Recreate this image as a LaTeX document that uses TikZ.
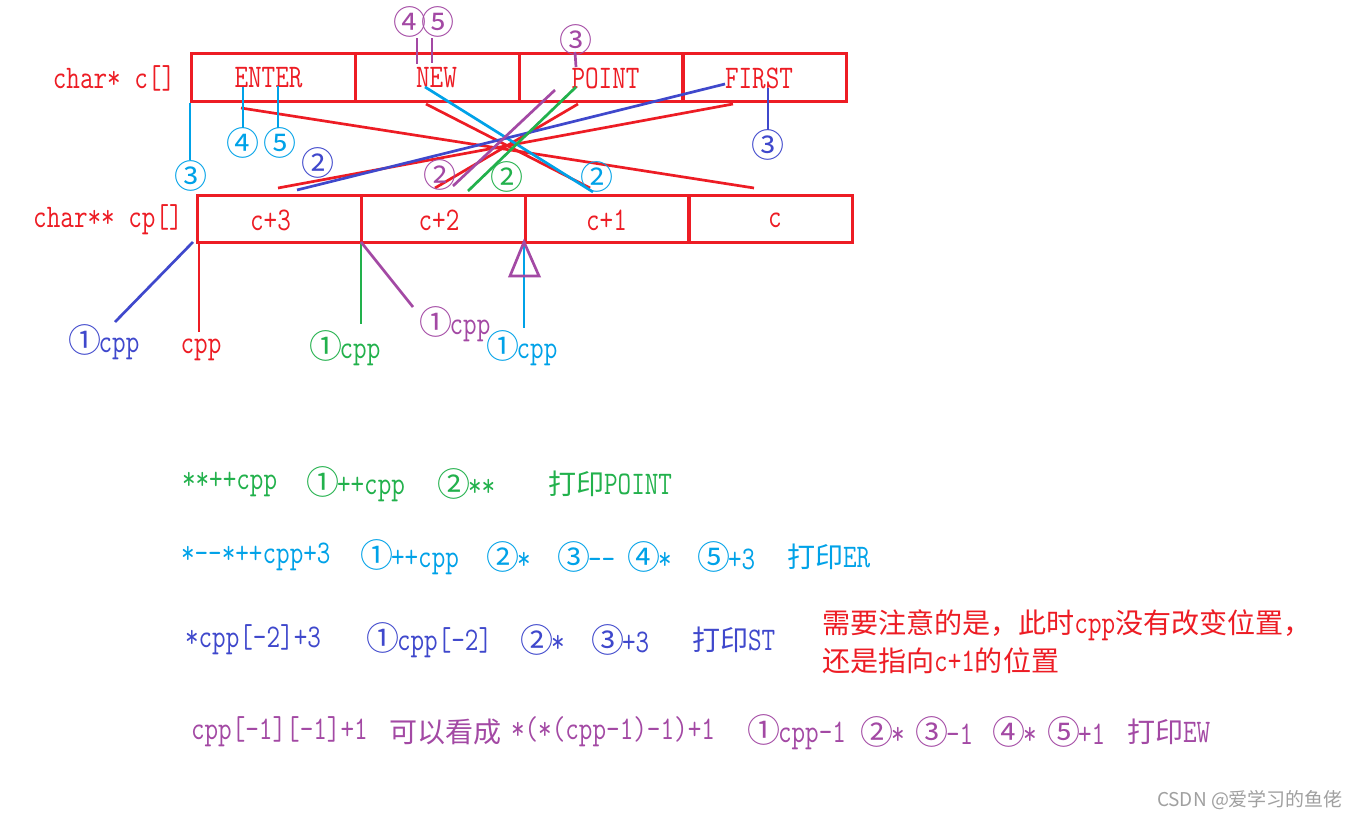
\documentclass[tikz,border=0pt]{standalone}
\usepackage{fontspec}
\setmonofont[FakeStretch=0.8]{Latin Modern Mono}
\newfontfamily\cjk[Scale=0.85]{Noto Sans CJK SC}
\newfontfamily\cdfont[Scale=1.0]{Noto Sans CJK SC}
\newfontfamily\wmfont{Noto Sans CJK SC}
\newcommand{\zh}[1]{{\cjk #1}}
\newcommand{\cd}[1]{\makebox[28pt]{\cdfont #1}}
\definecolor{pred}{HTML}{ED1C24}
\definecolor{pgreen}{HTML}{22B14C}
\definecolor{pcyan}{HTML}{00A2E8}
\definecolor{pblue}{HTML}{3F48CC}
\definecolor{ppurple}{HTML}{A349A4}
\definecolor{wmgray}{HTML}{A0A0A0}
\begin{document}
\begin{tikzpicture}[x=1pt,y=-1pt,
  every node/.style={inner sep=0pt, outer sep=0pt},
  font=\ttfamily\fontsize{33}{36}\selectfont,
  cell/.style={draw=pred, line width=3pt, minimum width=164pt, minimum height=48pt},
  ln/.style={draw=#1, line width=2.7pt},
  redln/.style={draw=pred, line width=2.7pt},
]
\fill[white] (0,0) rectangle (1363,819);
\useasboundingbox (0,0) rectangle (1363,819);

% ---- arrays ----
\node[cell] (t1) at (273,77) {};
\node[cell] (t2) at (437,77) {};
\node[cell] (t3) at (601,77) {};
\node[cell] (t4) at (764.5,77) {};
\node[cell, minimum height=47pt] (b1) at (279,218.5) {};
\node[cell, minimum height=47pt] (b2) at (443,218.5) {};
\node[cell, minimum height=47pt] (b3) at (607,218.5) {};
\node[cell, minimum height=47pt] (b4) at (770.5,218.5) {};

\node[text=pred] (lc) at (114,78) {char* c[]};
\node[text=pred] (lcp) at (108,220) {char** cp[]};
\node[text=pred] (sENTER) at (268.5,78) {ENTER};
\node[text=pred] (sNEW) at (436.5,78) {NEW};
\node[text=pred] (sPOINT) at (605.5,78) {POINT};
\node[text=pred] (sFIRST) at (759,78) {FIRST};
\node[text=pred] (pc3) at (270.5,220) {c+3};
\node[text=pred] (pc2) at (439,220) {c+2};
\node[text=pred] (pc1) at (606.5,220) {c+1};
\node[text=pred] (pc0) at (775,220) {c};

% ---- endpoints ----
\coordinate (r1a) at (241,108); \coordinate (r1b) at (754,188);
\coordinate (r2a) at (278,188); \coordinate (r2b) at (733,104);
\coordinate (r3a) at (435,188); \coordinate (r3b) at (578,104);
\coordinate (r4a) at (426,104); \coordinate (r4b) at (590,188);
\coordinate (bla) at (297,190); \coordinate (blb) at (725,84);
\coordinate (pua) at (453,186); \coordinate (pub) at (555,90);
\coordinate (gra) at (468,191); \coordinate (grb) at (576,87);
\coordinate (cya) at (425,87);  \coordinate (cyb) at (593,192);

\coordinate (v1a) at (190,103); \coordinate (v1b) at (190,160);
\coordinate (v2a) at (243,87);  \coordinate (v2b) at (243,128);
\coordinate (v3a) at (278,86);  \coordinate (v3b) at (278,128);
\coordinate (v4a) at (417,38);  \coordinate (v4b) at (417,64);
\coordinate (v5a) at (432,38);  \coordinate (v5b) at (432,63);
\coordinate (v6a) at (575,52);  \coordinate (v6b) at (576,67);
\coordinate (v7a) at (768,88);  \coordinate (v7b) at (768,130);

\coordinate (l1a) at (193,242); \coordinate (l1b) at (115,322);
\coordinate (l2a) at (199,242); \coordinate (l2b) at (199,332);
\coordinate (l3a) at (361,242); \coordinate (l3b) at (361,324);
\coordinate (l4b) at (413,307);
\coordinate (l5a) at (524,242); \coordinate (l5b) at (524,328);
\coordinate (tri1) at (510,276); \coordinate (tri2) at (539,276);

% ---- red pointer lines ----
\draw[redln] (r1a) -- (r1b);
\draw[redln] (r2a) -- (r2b);
\draw[redln] (r3a) -- (r3b);
\draw[redln] (r4a) -- (r4b);

% ---- coloured step lines ----
\draw[ln=pcyan] (cya) -- (cyb);
\draw[ln=pblue] (bla) -- (blb);
\draw[ln=ppurple] (pua) -- (pub);
\draw[ln=pgreen] (gra) -- (grb);

\draw[ln=pcyan] (v1a) -- (v1b);
\draw[ln=pcyan] (v2a) -- (v2b);
\draw[ln=pcyan] (v3a) -- (v3b);
\draw[ln=ppurple] (v4a) -- (v4b);
\draw[ln=ppurple] (v5a) -- (v5b);
\draw[ln=ppurple] (v6a) -- (v6b);
\draw[ln=pblue] (v7a) -- (v7b);

\draw[ln=pblue] (l1a) -- (l1b);
\draw[ln=pred] (l2a) -- (l2b);
\draw[ln=pgreen] (l3a) -- (l3b);
\draw[ln=ppurple] (l3a) -- (l4b);
\draw[ln=pcyan] (l5a) -- (l5b);
\draw[ln=ppurple, line join=miter] (l5a) -- (tri1) -- (tri2) -- cycle;

% ---- circled step numbers ----
\node[text=pcyan] (n3c) at (191,176) {\cd{③}};
\node[text=pcyan] (n4c) at (243,143) {\cd{④}};
\node[text=pcyan] (n5c) at (280,143) {\cd{⑤}};
\node[text=pblue] (n2b) at (318,163) {\cd{②}};
\node[text=ppurple] (n2p) at (440,175) {\cd{②}};
\node[text=pgreen] (n2g) at (507,177) {\cd{②}};
\node[text=pcyan] (n2c) at (597,177) {\cd{②}};
\node[text=pblue] (n3b) at (768,145) {\cd{③}};
\node[text=ppurple] (n3p) at (576,40) {\cd{③}};
\node[text=ppurple] (n45p) at (424,22) {\cd{④}\cd{⑤}};

\node[text=pblue] (cppb) at (105,342) {\cd{①}cpp};
\node[text=pred] (cppr) at (201,350) {cpp};
\node[text=pgreen] (cppg) at (346,348) {\cd{①}cpp};
\node[text=ppurple] (cppp) at (456,324) {\cd{①}cpp};
\node[text=pcyan] (cppc) at (523,348) {\cd{①}cpp};

% ---- explanation lines ----
\begin{scope}[every node/.append style={anchor=west}]
\node[text=pgreen] (g1) at (182,484) {**++cpp};
\node[text=pgreen] (g2) at (309,484) {\cd{①}++cpp};
\node[text=pgreen] (g3) at (440,484) {\cd{②}**};
\node[text=pgreen] (g4) at (548,484) {\zh{打印}POINT};

\node[text=pcyan] (c1) at (181,557) {*--*++cpp+3};
\node[text=pcyan] (c2) at (363,557) {\cd{①}++cpp};
\node[text=pcyan] (c3) at (489,557) {\cd{②}*};
\node[text=pcyan] (c4) at (560,557) {\cd{③}--};
\node[text=pcyan] (c5) at (630,557) {\cd{④}*};
\node[text=pcyan] (c6) at (700,557) {\cd{⑤}+3};
\node[text=pcyan] (c7) at (787,557) {\zh{打印}ER};

\node[text=pblue] (s1) at (185,640) {*cpp[-2]+3};
\node[text=pblue] (s2) at (369,640) {\cd{①}cpp[-2]};
\node[text=pblue] (s3) at (523,640) {\cd{②}*};
\node[text=pblue] (s4) at (594,640) {\cd{③}+3};
\node[text=pblue] (s5) at (692,640) {\zh{打印}ST};

\node[text=pred] (note1) at (822,625) {\zh{需要注意的是，此时}cpp\zh{没有改变位置，}};
\node[text=pred] (note2) at (822,661) {\zh{还是指向}c+1\zh{的位置}};

\node[text=ppurple] (p1) at (191,732) {cpp[-1][-1]+1};
\node[text=ppurple] (p2) at (389,732) {\zh{可以看成}};
\node[text=ppurple] (p3) at (511,732) {*(*(cpp-1)-1)+1};
\node[text=ppurple] (p4) at (750,732) {\cd{①}cpp-1};
\node[text=ppurple] (p5) at (863,732) {\cd{②}*};
\node[text=ppurple] (p6) at (918,732) {\cd{③}-1};
\node[text=ppurple] (p7) at (995,732) {\cd{④}*};
\node[text=ppurple] (p8) at (1050,732) {\cd{⑤}+1};
\node[text=ppurple] (p9) at (1127,732) {\zh{打印}EW};

\node[text=wmgray, font=\wmfont\fontsize{19}{22}\selectfont] (wm) at (1157,800) {CSDN @爱学习的鱼佬};
\end{scope}
\end{tikzpicture}
\end{document}
